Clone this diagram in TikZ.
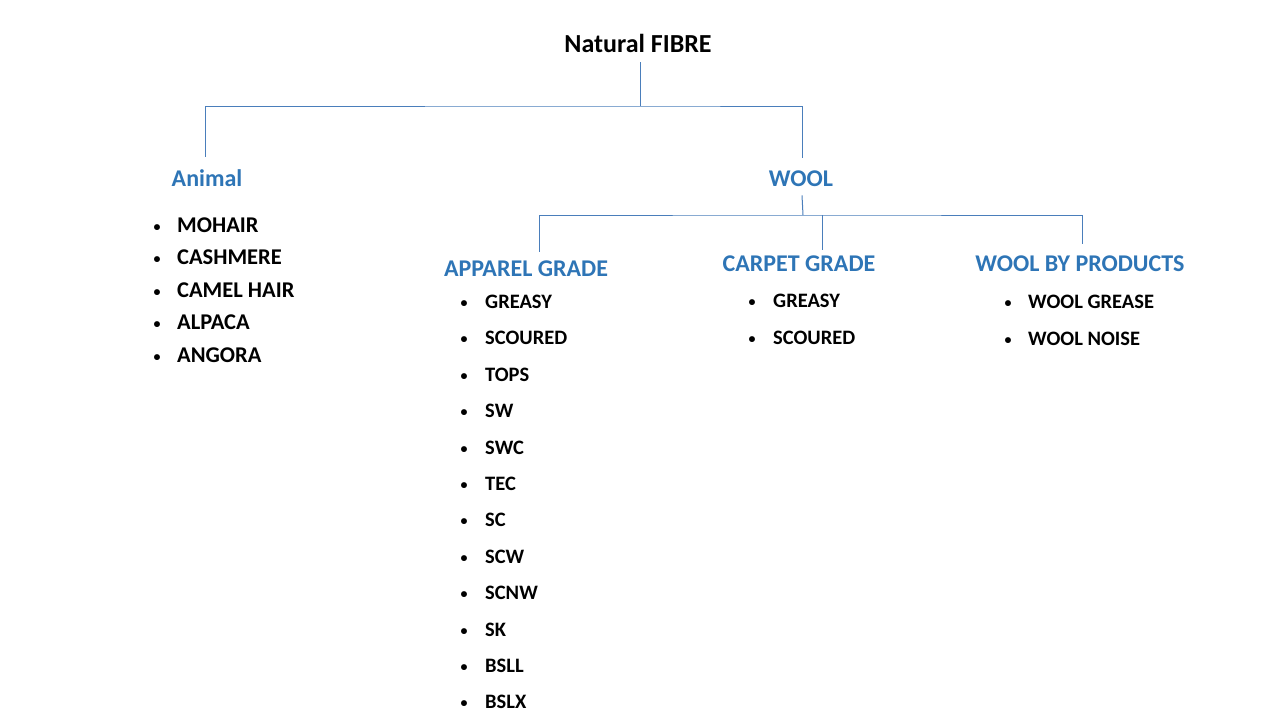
\documentclass[tikz,border=0pt]{standalone}
\usepackage{fontspec}
\setmainfont{Carlito}
\definecolor{hdblue}{HTML}{2E75B6}
\definecolor{lnblue}{HTML}{4A7EBB}
\begin{document}
\begin{tikzpicture}[x=1pt,y=-1pt,
  conn/.style={draw=lnblue,line width=1pt},
  top/.style={inner sep=0pt,anchor=base,font=\fontsize{26}{30}\selectfont\bfseries,text=black},
  head/.style={inner sep=0pt,anchor=base,font=\fontsize{24}{28}\selectfont\bfseries,text=hdblue},
  bigitem/.style={inner sep=0pt,anchor=base west,font=\fontsize{22.5}{26}\selectfont\bfseries,text=black},
  smallitem/.style={inner sep=0pt,anchor=base west,font=\fontsize{20.5}{24}\selectfont\bfseries,text=black},
  bul/.style={inner sep=0pt,anchor=base,font=\fontsize{14}{16}\selectfont\bfseries,text=black}]
\useasboundingbox[fill=white] (0,0) rectangle (1280,720);

\node[top] (nf) at (638,52) {Natural FIBRE};
\node[head] (animal) at (207,186) {Animal};
\node[head] (wool) at (801,186) {WOOL};
\node[head] (apparel) at (526,276) {APPAREL GRADE};
\node[head] (carpet) at (799,271) {CARPET GRADE};
\node[head] (byprod) at (1080,271) {WOOL BY PRODUCTS};

\coordinate (j1) at (640,106);
\coordinate (j2) at (803,215);

\draw[conn] ([xshift=2pt,yshift=-10pt]nf.south) -- (j1);
\draw[conn] ([xshift=-2pt,yshift=12pt]animal.north) |- (j1) -| ([xshift=1pt,yshift=12.5pt]wool.north);
\draw[conn] ([xshift=1pt,yshift=-9pt]wool.south) -- (j2);
\draw[conn] ([xshift=13pt,yshift=8.5pt]apparel.north) |- (j2) -| ([xshift=2pt,yshift=11.5pt]byprod.north);
\draw[conn] ([xshift=23pt,yshift=5.5pt]carpet.north) -- ([xshift=23pt]carpet.north |- j2);

\foreach \t [count=\i] in {MOHAIR,CASHMERE,CAMEL HAIR,ALPACA,ANGORA}{
  \pgfmathsetmacro{\yy}{232+32.5*(\i-1)}
  \node[bul] (ab\i) at (157,\yy-1) {•};
  \node[bigitem] (a\i) at (177,\yy) {\t};
}
\foreach \t [count=\i] in {GREASY,SCOURED,TOPS,SW,SWC,TEC,SC,SCW,SCNW,SK,BSLL,BSLX}{
  \pgfmathsetmacro{\yy}{308.5+36.4*(\i-1)}
  \node[bul] (pb\i) at (464,\yy-1) {•};
  \node[smallitem] (p\i) at (485,\yy) {\t};
}
\foreach \t [count=\i] in {GREASY,SCOURED}{
  \pgfmathsetmacro{\yy}{307.5+37*(\i-1)}
  \node[bul] (cb\i) at (752,\yy-1) {•};
  \node[smallitem] (c\i) at (773,\yy) {\t};
}
\foreach \t [count=\i] in {WOOL GREASE,WOOL NOISE}{
  \pgfmathsetmacro{\yy}{308.5+37*(\i-1)}
  \node[bul] (wb\i) at (1008,\yy-1) {•};
  \node[smallitem] (w\i) at (1028,\yy) {\t};
}
\end{tikzpicture}
\end{document}
